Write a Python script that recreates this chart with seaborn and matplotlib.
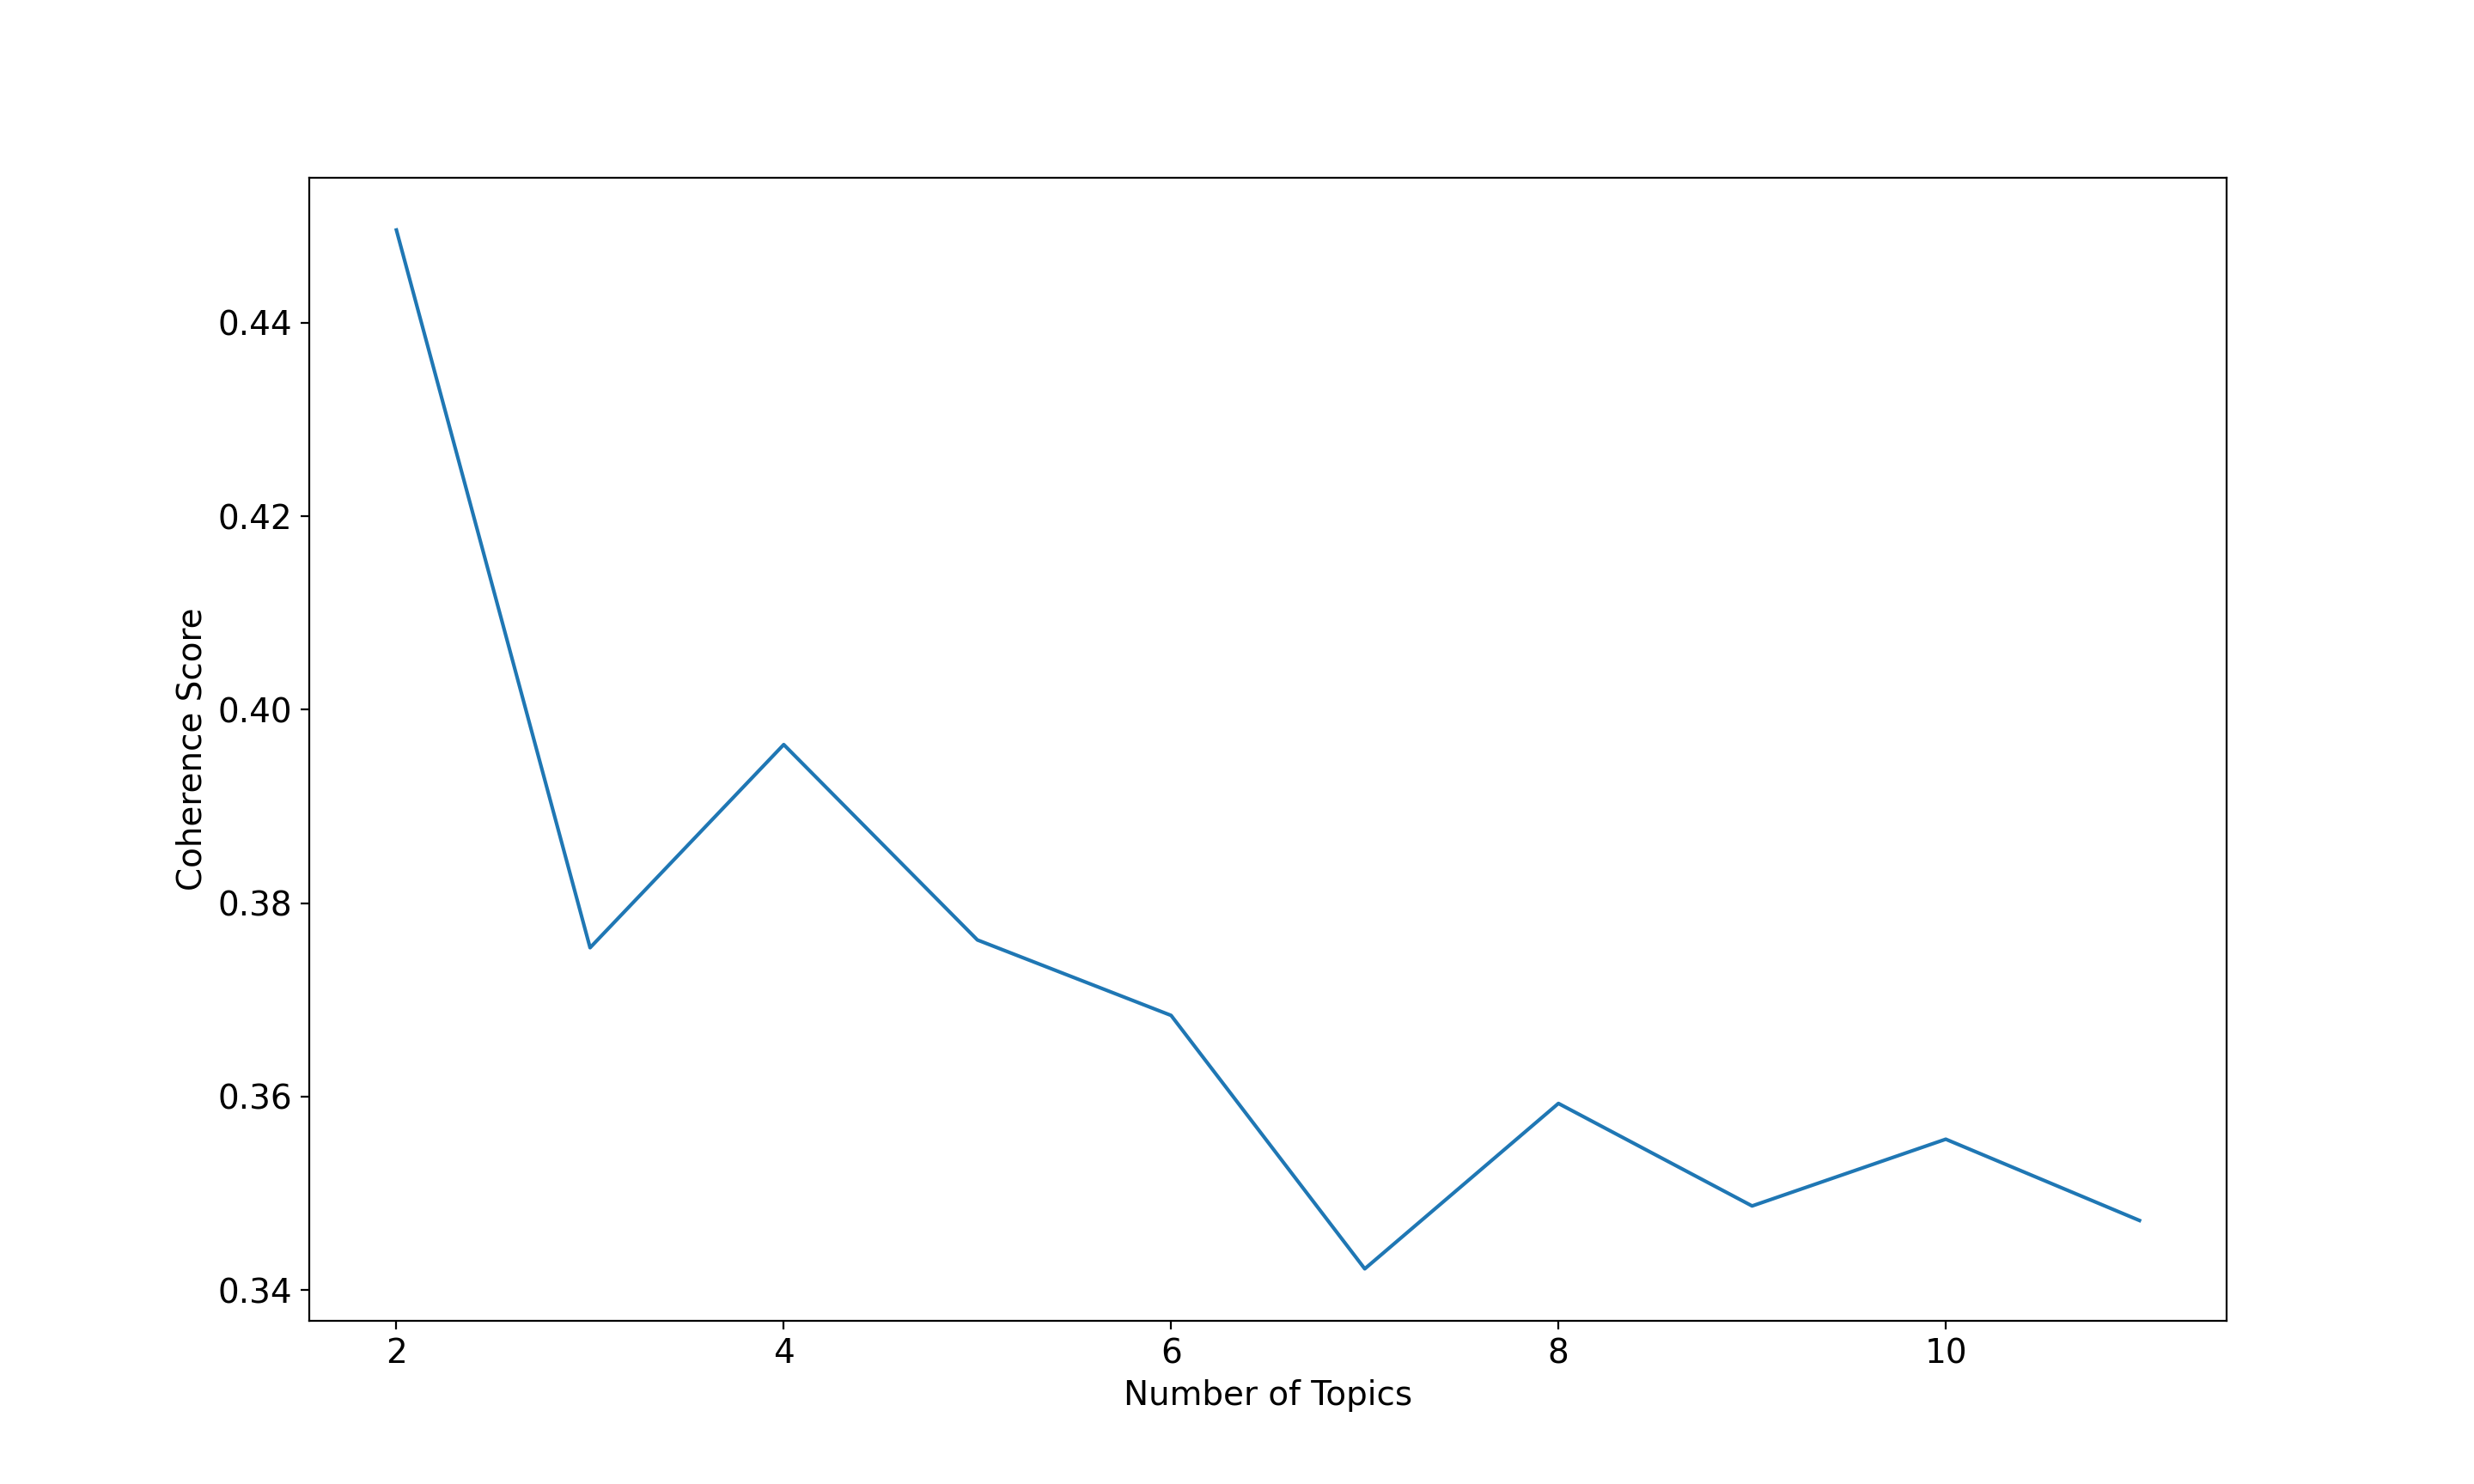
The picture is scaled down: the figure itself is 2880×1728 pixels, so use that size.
import numpy as np
import pandas as pd
import matplotlib
matplotlib.use("Agg")
import matplotlib.pyplot as plt
import seaborn as sns

# coherence score per topic count
num_topics = [2, 3, 4, 5, 6, 7, 8, 9, 10, 11]
coherence = [0.4496, 0.3754, 0.3964, 0.3762, 0.3684, 0.3422, 0.3593, 0.3487, 0.3556, 0.3472]

df = pd.DataFrame({'topics': num_topics, 'coherence': coherence})

plt.rcParams['font.size'] = 14
plt.rcParams['font.family'] = ['DejaVu Sans']

fig, ax = plt.subplots(figsize=(14.4, 8.64), dpi=200)
sns.lineplot(x='topics', y='coherence', data=df, ax=ax, color='#1f77b4', linewidth=1.5)

# Set plot labels
ax.set_xlabel("Number of Topics")
ax.set_ylabel("Coherence Score")

fig.savefig("out.png", dpi=200)
